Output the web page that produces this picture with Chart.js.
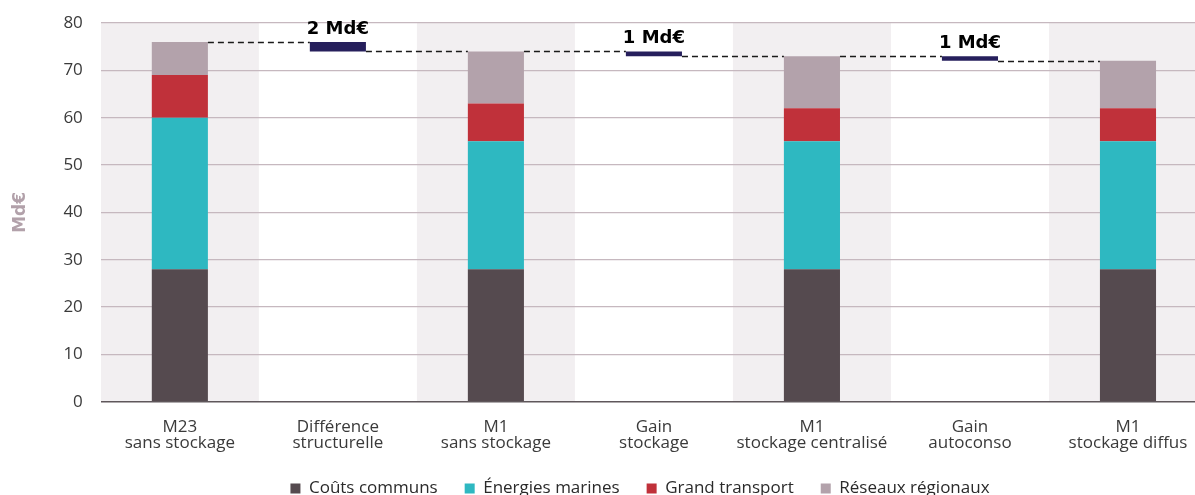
<!DOCTYPE html>
<html lang="fr">
<head>
<meta charset="utf-8">
<script src="https://cdn.jsdelivr.net/npm/chart.js@4.4.1/dist/chart.umd.min.js"></script>
<style>
  html, body { margin: 0; padding: 0; background: #ffffff; overflow: hidden; }
  #wrap { position: relative; width: 1210px; height: 495px; }
</style>
</head>
<body>
<div id="wrap"><canvas id="chart"></canvas></div>
<script>
// Scénarios (two-line axis labels)
const categories = [
  ["M23", "sans stockage"],
  ["Différence", "structurelle"],
  ["M1", "sans stockage"],
  ["Gain", "stockage"],
  ["M1", "stockage centralisé"],
  ["Gain", "autoconso"],
  ["M1", "stockage diffus"]
];

// Coûts de réseau par composante (Md€)
const coutsCommuns     = [28, null, 28, null, 28, null, 28];
const energiesMarines  = [32, null, 27, null, 27, null, 27];
const grandTransport   = [ 9, null,  8, null,  7, null,  7];
const reseauxRegionaux = [ 7, null, 11, null, 11, null, 10];

// Écarts entre scénarios : [bas, haut] (Md€)
const ecarts = [null, [74, 76], null, [73, 74], null, [72, 73], null];

const yMin = 0, yMax = 80, yStep = 10;

const FAMILY = "'Open Sans', 'DejaVu Sans', sans-serif";

// Shaded bands behind every other category
const bandsPlugin = {
  id: 'bands',
  beforeDraw(chart) {
    const { ctx, chartArea, scales: { x } } = chart;
    const w = (x.getPixelForValue(1) - x.getPixelForValue(0));
    ctx.save();
    ctx.beginPath();
    ctx.rect(chartArea.left, chartArea.top, chartArea.right - chartArea.left, chartArea.bottom - chartArea.top);
    ctx.clip();
    ctx.fillStyle = '#f2eff1';
    for (let i = 0; i < categories.length; i += 2) {
      const cx = x.getPixelForValue(i);
      ctx.fillRect(cx - w / 2, chartArea.top, w, chartArea.bottom - chartArea.top);
    }
    ctx.restore();
  }
};

// Dashed connectors between consecutive bars and labels on the gaps
const waterfallPlugin = {
  id: 'waterfall',
  afterDatasetsDraw(chart) {
    const { ctx, scales: { y } } = chart;
    const stackMeta = chart.getDatasetMeta(0);
    const gapMeta = chart.getDatasetMeta(4);
    const stacks = [coutsCommuns, energiesMarines, grandTransport, reseauxRegionaux];
    const levels = categories.map((_, i) => {
      if (ecarts[i]) return { from: ecarts[i][1], to: ecarts[i][0], el: gapMeta.data[i] };
      const total = stacks.reduce((s, arr) => s + (arr[i] || 0), 0);
      return { from: total, to: total, el: stackMeta.data[i] };
    });
    ctx.save();
    ctx.strokeStyle = '#1a1a1a';
    ctx.lineWidth = 1.3;
    ctx.setLineDash([6, 4]);
    for (let i = 0; i < levels.length - 1; i++) {
      const a = levels[i], b = levels[i + 1];
      const py = Math.round(y.getPixelForValue(a.to)) + 0.5;
      ctx.beginPath();
      ctx.moveTo(a.el.x + a.el.width / 2, py);
      ctx.lineTo(b.el.x - b.el.width / 2, py);
      ctx.stroke();
    }
    ctx.setLineDash([]);
    ctx.fillStyle = '#000000';
    ctx.font = "bold 18px 'DejaVu Sans', sans-serif";
    ctx.textAlign = 'center';
    ctx.textBaseline = 'alphabetic';
    ecarts.forEach((e, i) => {
      if (!e) return;
      const el = gapMeta.data[i];
      const top = y.getPixelForValue(e[1]);
      ctx.fillText((e[1] - e[0]) + ' Md€', el.x, top - 8);
    });
    ctx.restore();
  }
};

// Place the legend row under the axis labels
const legendPlacePlugin = {
  id: 'legendPlace',
  afterLayout(chart) {
    const lg = chart.legend;
    if (!lg) return;
    const dx = 640 - (lg.left + lg.right) / 2;
    const itemH = lg._itemHeight || 20;
    const pad = chart.options.plugins.legend.labels.padding;
    const newTop = 490 - pad - itemH / 2;
    const dy = newTop - lg.top;
    lg.left += dx; lg.right += dx;
    lg.top += dy; lg.bottom += dy;
  }
};

const common = { barPercentage: 0.355, categoryPercentage: 1.0, borderWidth: 0 };

new Chart(document.getElementById('chart'), {
  type: 'bar',
  data: {
    labels: categories,
    datasets: [
      { label: 'Coûts communs', data: coutsCommuns, backgroundColor: '#554a4f', stack: 's', ...common },
      { label: 'Énergies marines', data: energiesMarines, backgroundColor: '#2eb8c1', stack: 's', ...common },
      { label: 'Grand transport', data: grandTransport, backgroundColor: '#c0313a', stack: 's', ...common },
      { label: 'Réseaux régionaux', data: reseauxRegionaux, backgroundColor: '#b3a2ab', stack: 's', ...common },
      { label: 'Écart', data: ecarts, backgroundColor: '#261f5c', stack: 'e', grouped: false, ...common }
    ]
  },
  options: {
    responsive: true,
    maintainAspectRatio: false,
    animation: false,
    layout: { padding: { top: 23, right: 3, bottom: -27, left: 0 } },
    scales: {
      x: {
        stacked: true,
        grid: { display: false, drawTicks: false },
        border: { display: false },
        ticks: { color: '#3a3a3a', font: { family: FAMILY, size: 17, lineHeight: 0.95 }, padding: 17, maxRotation: 0, autoSkip: false }
      },
      y: {
        stacked: true,
        min: yMin, max: yMax,
        grid: {
          drawTicks: false,
          color: (c) => c.tick && c.tick.value === 0 ? '#5f575b' : '#c6b8bf',
          lineWidth: (c) => c.tick && c.tick.value === 0 ? 1.5 : 1.2
        },
        border: { display: false },
        ticks: { stepSize: yStep, color: '#3a3a3a', font: { family: FAMILY, size: 17, lineHeight: 0.5 }, padding: 18 },
        title: {
          display: true,
          text: 'Md€',
          color: '#b2a1aa',
          font: { family: "'DejaVu Sans', sans-serif", size: 17, weight: 'bold', lineHeight: 1.2 },
          padding: { top: 10, bottom: 15 }
        }
      }
    },
    plugins: {
      tooltip: { enabled: false },
      legend: {
        position: 'bottom',
        labels: {
          color: '#2a2a2a',
          font: { family: FAMILY, size: 17 },
          boxWidth: 10,
          boxHeight: 10,
          padding: 27,
          filter: (item) => item.datasetIndex < 4
        }
      }
    }
  },
  plugins: [bandsPlugin, waterfallPlugin, legendPlacePlugin]
});
</script>
</body>
</html>
